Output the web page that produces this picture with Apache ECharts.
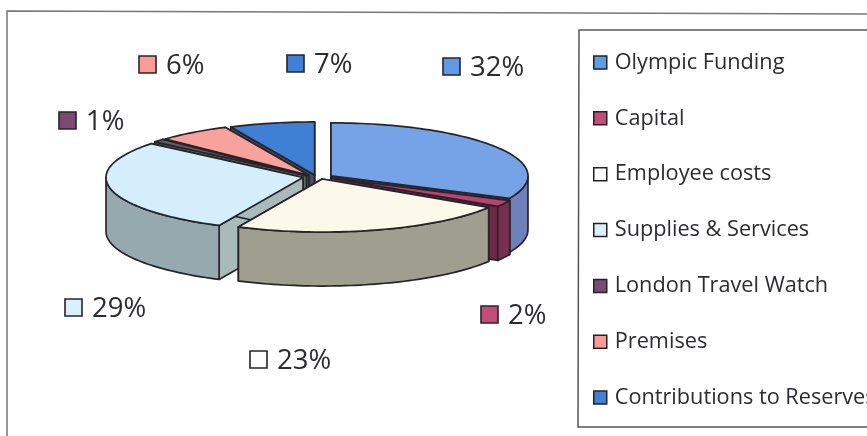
<!DOCTYPE html>
<html><head><meta charset="utf-8">
<style>html,body{margin:0;padding:0;background:#fff}#c{width:867px;height:436px}</style>
<script src="https://cdn.jsdelivr.net/npm/echarts@6/dist/echarts.min.js"></script>
</head><body><div id="c"></div>
<script>
const categories = ['Olympic Funding','Capital','Employee costs','Supplies & Services','London Travel Watch','Premises','Contributions to Reserves'];
const values = [32,2,23,29,1,6,7];
const topColors = ['#76a3e8','#b8446f','#fdf9ea','#d4eefb','#5f6064','#f9a29c','#3f7fd4'];
const wallColors = ['#6f7fb8','#7a2f4e','#a09f8f','#95a9ae','#5b5f63','#8c5a58','#2f5f9f'];
const cutColors = ['#5d5a70','#6d2a42','#8f8e80','#a9baba','#5f6668','#5f6668','#4a5056'];
const legendColors = ['#5f9be6','#c24d78','#ffffff','#d8f0fc','#7a4a74','#fb9c98','#3f80d8'];
const labelAnchors = [[443,66],[481,314],[250,359],[65,307],[59,120],[139,64],[287,63]];
const drawOrder = [6,5,4,0,3,1,2];

const center = [318,177], rx = 197, ry = 53, depth = 54, explodeX = 0.078, explodeY = 0.04;
const total = values.reduce((a,b)=>a+b,0);
const rad = d => d*Math.PI/180;
let acc = 0;
const slices = values.map(v => { const s = acc; acc += v; return [s/total*360, acc/total*360]; });

function sliceGeom(i){
  const [a0,a1] = slices[i], m = (a0+a1)/2;
  const ax = center[0] + explodeX*rx*Math.sin(rad(m));
  const ay = center[1] - explodeY*ry*Math.cos(rad(m));
  const pt = (a,dz=0)=>[ax+rx*Math.sin(rad(a)), ay-ry*Math.cos(rad(a))+dz];
  return {a0,a1,ax,ay,pt};
}
function renderSlice(i){
  const {a0,a1,ax,ay,pt} = sliceGeom(i);
  const line = {stroke:'#26242a',lineWidth:1.7,lineJoin:'round'};
  const kids = [];
  const poly = (points,fill)=>kids.push({type:'polygon',shape:{points},style:Object.assign({fill},line)});
  poly([[ax,ay],pt(a0),pt(a0,depth),[ax,ay+depth]],cutColors[i]);
  poly([[ax,ay],pt(a1),pt(a1,depth),[ax,ay+depth]],cutColors[i]);
  const f0 = Math.max(a0,90), f1 = Math.min(a1,270);
  if (f1>f0){
    const up=[],dn=[];
    for(let a=f0;a<=f1+1e-6;a+=1.5){up.push(pt(a));dn.unshift(pt(a,depth));}
    up.push(pt(f1));dn.unshift(pt(f1,depth));
    poly(up.concat(dn),wallColors[i]);
  }
  const pts=[[ax,ay]];
  for(let a=a0;a<a1;a+=1.5)pts.push(pt(a));
  pts.push(pt(a1));
  kids.push({type:'polygon',shape:{points:pts},style:Object.assign({fill:topColors[i]},line)});
  const [lx,ly]=labelAnchors[i];
  kids.push({type:'rect',shape:{x:lx,y:ly-8,width:17,height:17},style:{fill:legendColors[i],stroke:'#2a2428',lineWidth:1.6},z2:5});
  kids.push({type:'text',style:{x:lx+27,y:ly+2,text:values[i]+'%',fill:'#2b2b33',font:'27.5px "Open Sans"',textAlign:'left',textVerticalAlign:'middle'},z2:5});
  return {type:'group',children:kids};
}
const series = categories.map((name,i)=>({
  type:'custom',name,coordinateSystem:'none',silent:true,
  z:10+drawOrder.indexOf(i),
  itemStyle:{color:legendColors[i]},
  data:[[values[i]]],
  renderItem:()=>renderSlice(i)
}));
const chart = echarts.init(document.getElementById('c'),null,{renderer:'canvas'});
chart.setOption({
  animation:false,backgroundColor:'#fff',
  legend:{orient:'vertical',left:593,top:51.5,itemWidth:13,itemHeight:13,itemGap:33.85,selectedMode:false,icon:'rect',padding:0,
    data:categories,
    textStyle:{fontFamily:'Open Sans',fontSize:21.7,color:'#2b2b33',padding:[0,0,0,3]},
    itemStyle:{borderColor:'#222',borderWidth:1.5}},
  graphic:[
    {type:'polyline',z:1,shape:{points:[[7,436],[7,11],[867,14]]},style:{stroke:'#777',lineWidth:1.5,fill:'none'}},
    {type:'polyline',z:1,shape:{points:[[867,30],[579,30],[578,427],[867,427]]},style:{stroke:'#555',lineWidth:1.5,fill:'none'}}
  ],
  series
});
</script></body></html>
